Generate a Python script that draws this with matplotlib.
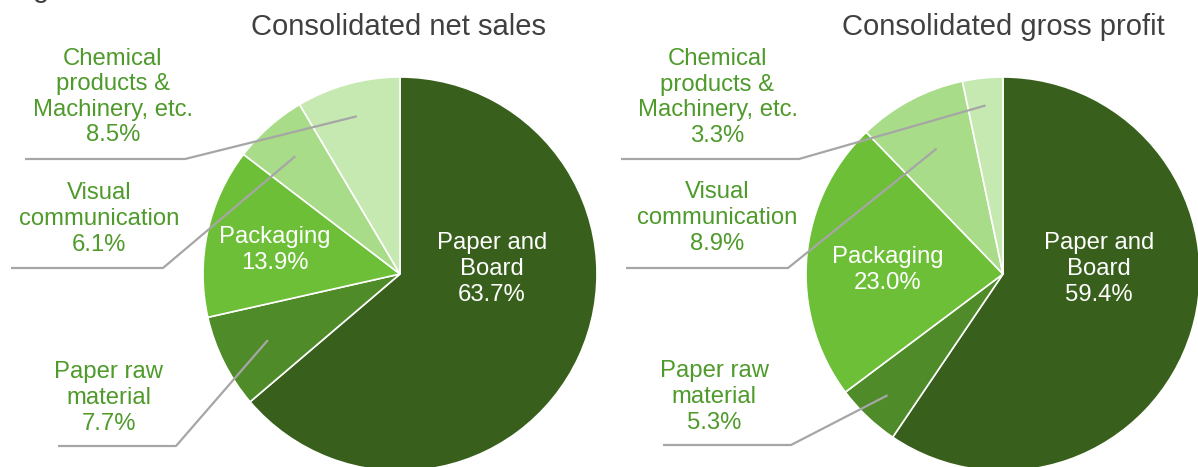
import matplotlib.pyplot as plt
import numpy as np

plt.rcParams['font.family'] = ['Liberation Sans', 'DejaVu Sans']

# Segment data (clockwise from 12 o'clock)
categories = ['Paper and\nBoard', 'Paper raw\nmaterial', 'Packaging',
              'Visual\ncommunication', 'Chemical\nproducts &\nMachinery, etc.']
net_sales = [63.7, 7.7, 13.9, 6.1, 8.5]
gross_profit = [59.4, 5.3, 23.0, 8.9, 3.3]
colors = ['#38601C', '#4F8C29', '#6EBF38', '#A8DC88', '#C6E8B1']

W, H = 1198, 467
label_green = '#4E9A2B'
line_gray = '#A6A6A6'

fig = plt.figure(figsize=(W / 100, H / 100), dpi=100)
ax = fig.add_axes([0, 0, 1, 1])


def draw_pie(values, center, title, title_x, inside_pos, outside):
    wedges, _ = ax.pie(values, colors=colors, startangle=-90, counterclock=True,
                       center=center, radius=197, frame=True,
                       wedgeprops=dict(edgecolor='white', linewidth=1.2))
    ax.text(title_x, 27, title, fontsize=21, color='#404040',
            ha='center', va='center')

    # labels inside the big slices
    for idx, (x, y) in inside_pos.items():
        ax.text(x, y, f'{categories[idx]}\n{values[idx]:.1f}%', fontsize=17.2,
                color='white', ha='center', va='center', linespacing=1.21)

    # labels outside with leader lines
    for idx, (tx, ty, x0, x1, ly, frac) in outside.items():
        w = wedges[idx]
        mid = np.deg2rad((w.theta1 + w.theta2) / 2)
        ax_x = center[0] + frac * 197 * np.cos(mid)
        ax_y = center[1] + frac * 197 * np.sin(mid)
        ax.plot([x0, x1, ax_x], [ly, ly, ax_y], color=line_gray, lw=1.6,
                zorder=5, solid_capstyle='butt')
        ax.text(tx, ty, f'{categories[idx]}\n{values[idx]:.1f}%', fontsize=17.2,
                color=label_green, ha='center', va='center', linespacing=1.21)


draw_pie(net_sales, (400, 274), 'Consolidated net sales', 398.5,
         {2: (275, 250), 0: (492, 269)},
         {4: (113, 97, 25, 185, 159, 0.83),
          3: (99, 219, 11, 163, 268, 0.80),
          1: (109, 398, 58, 176, 446, 0.75)})

draw_pie(gross_profit, (1003, 274), 'Consolidated gross profit', 1003.5,
         {2: (887.5, 270), 0: (1099, 269)},
         {4: (717.5, 97.5, 621, 799, 159, 0.86),
          3: (717, 218, 626, 788, 268, 0.72),
          1: (714, 397, 663, 791, 445, 0.85)})

# tail of a cut-off heading above the chart
ax.text(41, -3, 'g', fontsize=21, color='#404040', ha='center', va='baseline')

ax.set_xlim(0, W)
ax.set_ylim(H, 0)
ax.set_aspect('equal')
ax.axis('off')

fig.savefig('out.png', dpi=100)
